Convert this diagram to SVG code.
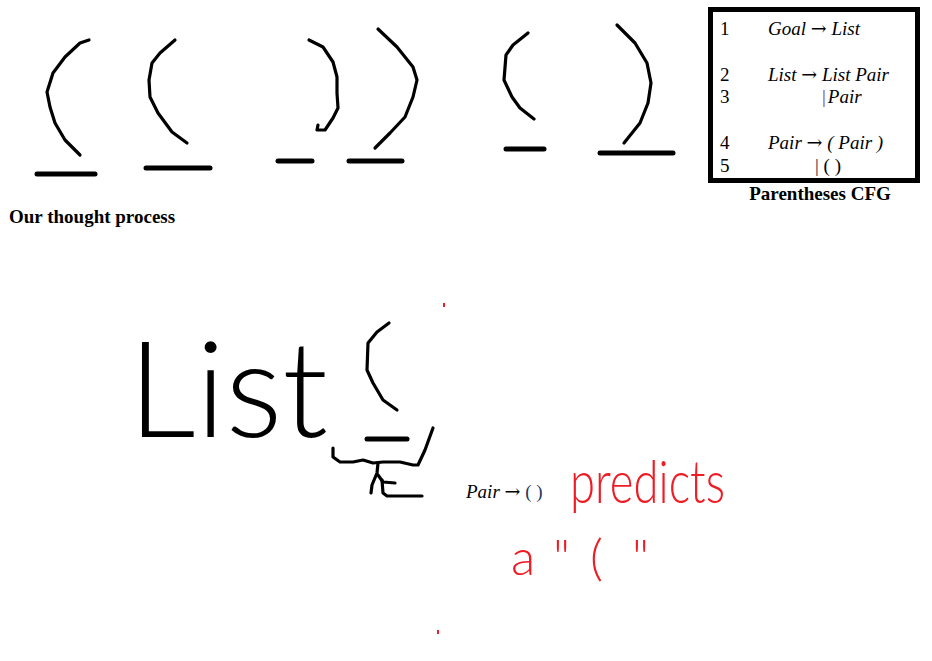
<svg xmlns="http://www.w3.org/2000/svg" width="932" height="661" viewBox="0 0 932 661">
<style>
.ink{fill:none;stroke:#000;stroke-width:3.2;stroke-linecap:round;stroke-linejoin:round}
.bar{fill:none;stroke:#000;stroke-width:5;stroke-linecap:round}
.red{fill:#ee1c24;font-family:"Lato","Open Sans","Liberation Sans",sans-serif;font-weight:300}
.serif{font-family:"Liberation Serif","Times New Roman",serif;font-size:19px;fill:#000}
.it{font-style:italic}
.ar{font-family:"DejaVu Serif",serif;font-style:normal}
.bold{font-weight:bold;font-size:19px}
.hand{font-family:"Lato","Open Sans","Liberation Sans",sans-serif;font-weight:300;fill:#000}
</style>
<rect width="932" height="661" fill="#fff"/>
<g id="thought-process">
<path class="ink" d="M89,40 L80,43 L65,57 L53,73 L47,92 L50,107 L55,123 L65,140 L80,155"/>
<path class="bar" d="M37,174 L95,174"/>
<path class="ink" d="M175,40 L160,53 L152,63 L149,80 L150,97 L158,113 L172,132 L187,143"/>
<path class="bar" d="M146,168 L210,168"/>
<path class="ink" d="M309,40 L323,47 L333,62 L337,77 L337,93 L338,108 L333,118 L325,130 L317,130 L318,125"/>
<path class="bar" d="M278,161 L312,161"/>
<path class="ink" d="M378,29 L397,47 L413,67 L417,80 L413,97 L405,117 L390,133 L380,143 L375,148"/>
<path class="bar" d="M349,161 L402,161"/>
<path class="ink" d="M528,33 L513,45 L506,55 L504,80 L512,97 L520,108 L534,119"/>
<path class="bar" d="M506,149 L544,149"/>
<path class="ink" d="M617,25 L635,43 L647,63 L651,83 L648,103 L640,123 L624,143"/>
<path class="bar" d="M600,153 L673,153"/>
<text class="serif bold" x="9" y="223">Our thought process</text>
</g>
<g id="cfg">
<rect x="710.5" y="9.5" width="207" height="171" fill="none" stroke="#000" stroke-width="5"/>
<text class="serif" x="720" y="35">1</text>
<text class="serif it" x="768" y="35">Goal <tspan class="ar">→</tspan> List</text>
<text class="serif" x="720" y="81">2</text>
<text class="serif it" x="768" y="81">List <tspan class="ar">→</tspan> List Pair</text>
<text class="serif" x="720" y="103">3</text>
<text class="serif" x="822" y="103"><tspan fill="#7030a0">|</tspan><tspan class="it" dx="2">Pair</tspan></text>
<text class="serif" x="720" y="149">4</text>
<text class="serif it" x="768" y="149">Pair <tspan class="ar">→</tspan> ( Pair )</text>
<text class="serif" x="720" y="172">5</text>
<text class="serif" x="815" y="172"><tspan fill="#2a1f3a">|</tspan> ( )</text>
<text class="serif bold" x="820" y="200" text-anchor="middle">Parentheses CFG</text>
</g>
<g id="list-sketch">
<text class="hand" x="128" y="437" font-size="135" textLength="200" lengthAdjust="spacingAndGlyphs">List</text>
<path class="ink" d="M389,323 L377,332 L368,343 L367,370 L373,383 L383,400 L397,410"/>
<path class="bar" d="M367,439 L407,439"/>
<path class="ink" d="M333,448 L333,457 L340,462 L353,462 L363,460 L373,463 L383,462 L400,462 L413,465 L418,465 L425,450 L433,428"/>
<path class="ink" d="M378,463 L377,473 L372,485 L371,493"/>
<path class="ink" d="M378,475 L383,482 L395,483"/>
<path class="ink" d="M382,480 L383,493 L387,496 L422,496"/>
</g>
<g id="pair-note">
<text class="serif" x="466" y="498" font-size="18"><tspan class="it">Pair</tspan> <tspan class="ar">→</tspan> <tspan fill="#1f3864">( )</tspan></text>
<text class="red" x="570" y="503" font-size="60" textLength="155" lengthAdjust="spacingAndGlyphs">predicts</text>
<text class="red" y="575" font-size="50"><tspan x="511">a</tspan><tspan x="553">"</tspan><tspan x="590">(</tspan><tspan x="632">"</tspan></text>
<rect x="443" y="303" width="2" height="4" fill="#ee1c24"/>
<rect x="437" y="630" width="2" height="4" fill="#ee1c24"/>
</g>
</svg>
